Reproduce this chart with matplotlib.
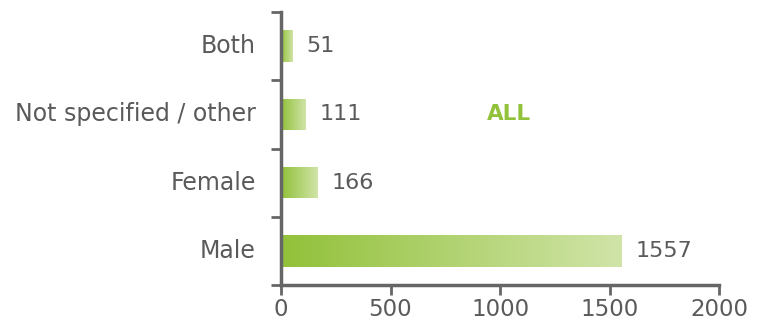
import matplotlib
matplotlib.use("Agg")
import matplotlib.pyplot as plt
import numpy as np
from matplotlib.colors import LinearSegmentedColormap

categories = ["Male", "Female", "Not specified / other", "Both"]
values = [1557, 166, 111, 51]
x_ticks = [0, 500, 1000, 1500, 2000]

plt.rcParams['font.family'] = ['DejaVu Sans']
txt = '#5a5a5a'
spine = '#666666'

fig = plt.figure(figsize=(7.66, 3.2), dpi=100)
ax = fig.add_axes([281/766, 1-285/320, (719-281)/766, (285-12)/320])

cmap = LinearSegmentedColormap.from_list('g', ['#92c13a', '#d0e4a8'])
grad = np.linspace(0, 1, 256).reshape(1, -1)
y = np.arange(len(categories))
bars = ax.barh(y, values, height=0.46, color='none', edgecolor='none')
for b in bars:
    x0, y0 = b.get_x(), b.get_y()
    w, h = b.get_width(), b.get_height()
    im = ax.imshow(grad, cmap=cmap, aspect='auto', extent=[x0, x0 + w, y0, y0 + h],
                   interpolation='bicubic', zorder=2)
    im.set_clip_path(b)

for yi, v in zip(y, values):
    ax.annotate(str(v), xy=(v, yi), xytext=(10, 0), textcoords='offset points',
                va='center', ha='left', fontsize=16, color=txt)

ax.set_xlim(0, 2000)
ax.set_ylim(-0.5, len(categories) - 0.5)
ax.set_xticks(x_ticks)
ax.set_xticklabels([str(t) for t in x_ticks])
ax.set_yticks(np.arange(len(categories) + 1) - 0.5)
ax.set_yticklabels([])
ax.set_yticks(y, minor=True)
ax.set_yticklabels(categories, minor=True)
ax.tick_params(axis='y', which='minor', length=0, pad=18, labelsize=17, labelcolor=txt)
ax.tick_params(axis='y', which='major', length=7, width=2, color=spine, direction='out')
ax.tick_params(axis='x', length=7, width=2, color=spine, labelsize=16.5, labelcolor=txt, pad=2)
for lbl in ax.get_yticklabels(minor=True):
    lbl.set_va('center')
for s in ['top', 'right']:
    ax.spines[s].set_visible(False)
for s in ['left', 'bottom']:
    ax.spines[s].set_color(spine)
    ax.spines[s].set_linewidth(2.5)

ax.text(1040, 2, 'ALL', color='#92c13a', fontsize=15.5, fontweight='bold', ha='center', va='center')

fig.savefig('out.png', dpi=100)
